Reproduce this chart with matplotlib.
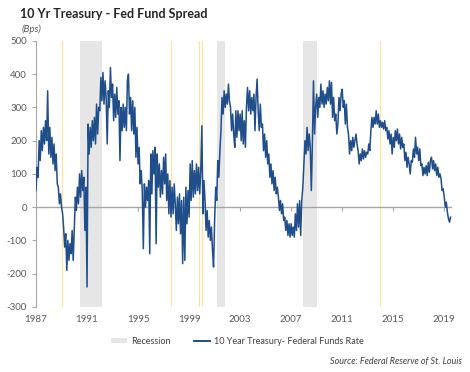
import matplotlib
matplotlib.use("Agg")
import matplotlib.pyplot as plt
from matplotlib.patches import Patch
from matplotlib.lines import Line2D
import pandas as pd

# ---- data (bps), monthly readings from the chart (one row per year) ----
start_date = "1987-01-01"
spread = [
    50, 120, 90, 200, 140, 230, 170, 240, 190, 260, 200, 350,
    160, 240, 150, 210, 130, 190, 110, 160, 70, 60, 10, 40,
    0, -20, -60, -120, -80, -190, -100, -160, -110, -140, -70, -160,
    -60, 30, -10, 60, 10, 100, 30, 110, 50, 90, -70, 60,
    -240, 250, 160, 240, 180, 260, 200, 270, 190, 310, 220, 300,
    290, 390, 320, 405, 310, 380, 330, 190, 350, 300, 420, 330,
    370, 260, 340, 270, 360, 280, 320, 140, 300, 230, 310, 240,
    300, 230, 380, 400, 280, 330, 230, 320, 220, 300, 150, 240,
    130, 180, 70, 110, 50, -125, 70, 0, 60, 20, 80, -140,
    160, 40, 170, 100, 180, -110, 160, 60, 130, 30, 110, 40,
    150, 70, 160, 20, 100, -20, 80, -30, 60, -20, 70, 10,
    -70, 30, -50, 40, -80, 20, -170, 30, -160, 60, -50, 50,
    -30, 130, 20, 140, 30, 110, 40, 130, 50, 120, 40, 110,
    245, -20, 80, 20, -70, -10, -90, -40, -100, -60, -130, -180,
    -40, 60, 20, 140, 90, 170, 230, 330, 280, 350, 300, 340,
    310, 370, 320, 300, 230, 280, 220, 180, 290, 210, 290, 230,
    280, 200, 290, 190, 260, 180, 300, 360, 290, 350, 280, 330,
    290, 340, 230, 330, 385, 290, 230, 310, 240, 250, 170, 220,
    150, 200, 130, 160, 90, 130, 70, 110, 50, 90, 40, 60,
    30, -10, 20, -20, 10, -40, -30, -70, -40, -85, -50, -90,
    -50, -85, -60, -90, -20, -70, 10, -60, 20, -85, 20, 60,
    130, 200, 160, 240, 170, 220, 180, 50, 200, 380, 220, 300,
    340, 270, 330, 300, 370, 310, 350, 300, 340, 310, 360, 320,
    380, 310, 375, 270, 330, 260, 280, 220, 250, 330, 290, 340,
    355, 300, 320, 250, 310, 240, 220, 160, 200, 170, 210, 180,
    200, 220, 190, 170, 130, 160, 140, 175, 145, 170, 150, 165,
    160, 190, 170, 230, 270, 240, 270, 250, 290, 250, 280, 240,
    260, 240, 255, 235, 260, 230, 240, 205, 230, 190, 220, 160,
    210, 180, 230, 200, 235, 190, 220, 175, 210, 180, 190, 140,
    165, 120, 150, 130, 100, 140, 135, 175, 150, 210, 160, 180,
    140, 175, 125, 130, 95, 120, 100, 125, 95, 135, 105, 140,
    150, 115, 140, 110, 130, 95, 120, 90, 100, 85, 50, 55,
    30, 0, 15, -15, -35, -45, -30,
]
recession_start = ["1990-06-15", "2001-02-25", "2007-11-25"]
recession_end = ["1992-03-05", "2001-10-25", "2009-01-01"]
marker_dates = ["1989-01-25", "1997-07-20", "1999-10-15", "2000-01-15", "2013-12-10"]
year_ticks = [1987, 1991, 1995, 1999, 2003, 2007, 2011, 2015, 2019]
y_ticks = [-300, -200, -100, 0, 100, 200, 300, 400, 500]

dates = pd.date_range(start_date, periods=len(spread), freq="MS")

plt.rcParams["font.family"] = ["Lato", "DejaVu Sans"]

fig = plt.figure(figsize=(4.7, 3.72), dpi=100)
ax = fig.add_axes([0.0766, 0.175, 0.8854, 0.715])

line_color = "#1f4e8a"
grey_txt = "#595959"

for s, e in zip(recession_start, recession_end):
    ax.axvspan(pd.Timestamp(s), pd.Timestamp(e), color="#e6e6e6", lw=0, zorder=0)
for d in marker_dates:
    ax.axvline(pd.Timestamp(d), color="#ffe399", lw=0.8, zorder=1)

ax.axhline(0, color="#a6a6a6", lw=1.0, zorder=2)
ax.plot(dates, spread, color=line_color, lw=1.1, zorder=3)

ax.set_ylim(-300, 500)
ax.set_yticks(y_ticks)
ax.set_yticklabels([str(v) for v in y_ticks])
ax.set_xlim(pd.Timestamp("1987-01-01"), pd.Timestamp("2019-08-15"))
xt = [pd.Timestamp(f"{y}-01-01") for y in year_ticks]
ax.set_xticks(xt)
ax.set_xticklabels([str(y) for y in year_ticks])

for sp in ["top", "right", "bottom"]:
    ax.spines[sp].set_visible(False)
ax.spines["left"].set_color("#a6a6a6")
ax.tick_params(axis="y", colors="#a6a6a6", labelcolor=grey_txt, labelsize=7, length=3, width=0.8)
ax.tick_params(axis="x", length=0, labelcolor=grey_txt, labelsize=7, pad=6)

sec = ax.secondary_xaxis(0.375)
sec.set_xticks(xt)
sec.set_xticklabels([])
sec.spines["bottom"].set_visible(False)
sec.tick_params(axis="x", direction="out", length=3, color="#a6a6a6", width=0.8)

fig.text(0.043, 0.962, "10 Yr Treasury - Fed Fund Spread", fontsize=9, fontweight="bold",
         color="#262626", va="center")
fig.text(0.045, 0.922, "(Bps)", fontsize=7, style="italic", color=grey_txt, va="center")

handles = [Patch(facecolor="#e6e6e6", edgecolor="none"),
           Line2D([0], [0], color=line_color, lw=1.4)]
fig.legend(handles, ["Recession", "10 Year Treasury- Federal Funds Rate"],
           loc="center", bbox_to_anchor=(0.505, 0.083), ncol=2, frameon=False,
           fontsize=6.5, handlelength=1.8, handleheight=0.6, handletextpad=0.5,
           columnspacing=2.5, labelcolor="#404040")
fig.text(0.983, 0.027, "Source: Federal Reserve of St. Louis", fontsize=6.5, style="italic",
         color="#404040", ha="right", va="center")

fig.savefig("out.png", dpi=100)
